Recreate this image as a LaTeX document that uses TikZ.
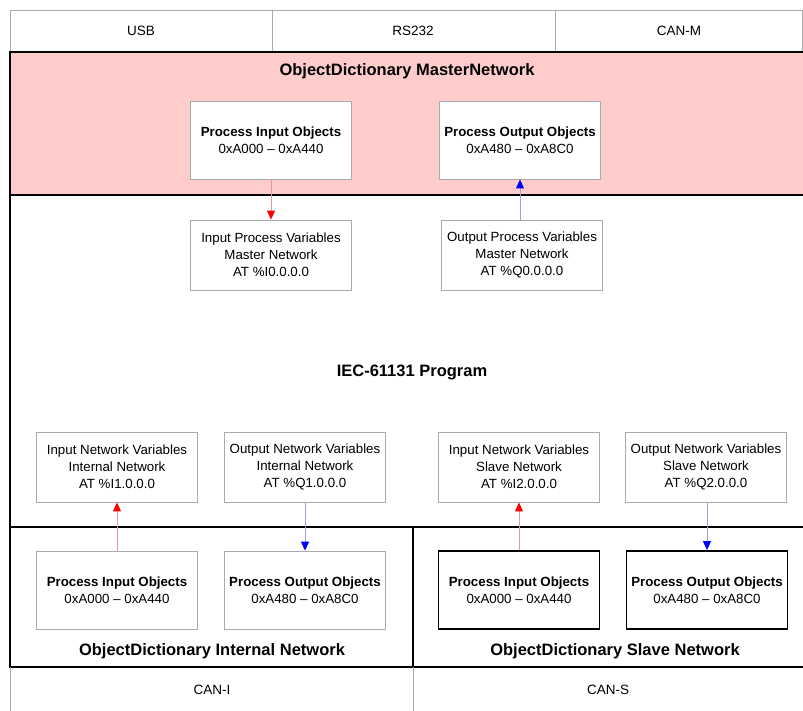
\documentclass[tikz,border=0pt]{standalone}
\usepackage{fontspec}
\setmainfont{Liberation Sans}
\usetikzlibrary{arrows.meta}
\definecolor{pinkbg}{RGB}{255,204,204}
\definecolor{boxgray}{RGB}{170,170,170}
\definecolor{linered}{RGB}{235,150,150}
\definecolor{lineblue}{RGB}{160,160,225}
\begin{document}
\begin{tikzpicture}[x=1pt,y=-1pt,
  lightbox/.style={draw=boxgray, line width=0.8pt, fill=white, minimum width=161pt, minimum height=70pt, align=center, inner sep=0pt, font=\fontsize{13.3}{17}\selectfont},
  objbox/.style={lightbox, minimum height=78pt},
  thickobj/.style={objbox, draw=black, line width=1.8pt},
  cell/.style={font=\fontsize{13.5}{16}\selectfont},
  title/.style={font=\fontsize{16.5}{19}\bfseries\selectfont},
  redarrow/.style={draw=linered, line width=0.9pt, -{Triangle[length=9pt,width=8pt,color=red]}},
  bluearrow/.style={draw=lineblue, line width=0.9pt, -{Triangle[length=9pt,width=8pt,color=blue]}},
  sect/.style={draw=black, line width=2pt}
]
\useasboundingbox (0,0) rectangle (803,711);
\fill[white] (0,0) rectangle (803,711);

% top interface row
\draw[boxgray, line width=0.8pt] (10,10) rectangle (802,52);
\draw[boxgray, line width=0.8pt] (272,10) -- (272,52) (555,10) -- (555,52);
\node[cell] (usb) at (141,31) {USB};
\node[cell] (rs) at (413,31) {RS232};
\node[cell] (canm) at (679,31) {CAN-M};

% master network
\fill[pinkbg] (10,52) rectangle (803,195);
\draw[sect] (803,52) -- (10,52) -- (10,195) -- (803,195);
\node[title] (mtitle) at (407,71) {ObjectDictionary MasterNetwork};
\node[objbox] (mpio) at (271,140) {\textbf{Process Input Objects}\\0xA000 – 0xA440};
\node[objbox] (mpoo) at (520,140) {\textbf{Process Output Objects}\\0xA480 – 0xA8C0};

% program area
\draw[sect] (10,195) -- (10,527);
\node[title] (prog) at (412,372) {IEC-61131 Program};
\node[lightbox] (ipv) at (271,255) {Input Process Variables\\Master Network\\AT \%I0.0.0.0};
\node[lightbox] (opv) at (522,255) {Output Process Variables\\Master Network\\AT \%Q0.0.0.0};

\node[lightbox] (inv1) at (117,467) {Input Network Variables\\Internal Network\\AT \%I1.0.0.0};
\node[lightbox] (onv1) at (305,467) {Output Network Variables\\Internal Network\\AT \%Q1.0.0.0};
\node[lightbox] (inv2) at (519,467) {Input Network Variables\\Slave Network\\AT \%I2.0.0.0};
\node[lightbox] (onv2) at (706,467) {Output Network Variables\\Slave Network\\AT \%Q2.0.0.0};

% bottom object dictionaries
\draw[sect] (10,527) rectangle (413,667);
\draw[sect] (413,527) -- (803,527) (413,667) -- (803,667);
\node[objbox] (ipio) at (117,590) {\textbf{Process Input Objects}\\0xA000 – 0xA440};
\node[objbox] (ipoo) at (305,590) {\textbf{Process Output Objects}\\0xA480 – 0xA8C0};
\node[thickobj] (spio) at (519,590) {\textbf{Process Input Objects}\\0xA000 – 0xA440};
\node[thickobj] (spoo) at (707,590) {\textbf{Process Output Objects}\\0xA480 – 0xA8C0};
\node[title] (ititle) at (212,651) {ObjectDictionary Internal Network};
\node[title] (stitle) at (615,651) {ObjectDictionary Slave Network};

% bottom interface row
\draw[boxgray, line width=0.8pt] (10,667) -- (10,711) (413,667) -- (413,711);
\node[cell] (cani) at (212,690) {CAN-I};
\node[cell] (cans) at (608,690) {CAN-S};

% connectors
\draw[redarrow] (mpio.south) -- (ipv.north);
\draw[bluearrow] (opv.north -| mpoo.south) -- (mpoo.south);
\draw[redarrow] (ipio.north) -- (inv1.south);
\draw[bluearrow] (onv1.south) -- (ipoo.north);
\draw[redarrow] (spio.north) -- (inv2.south);
\draw[bluearrow] (onv2.south -| spoo.north) -- (spoo.north);
\end{tikzpicture}
\end{document}
